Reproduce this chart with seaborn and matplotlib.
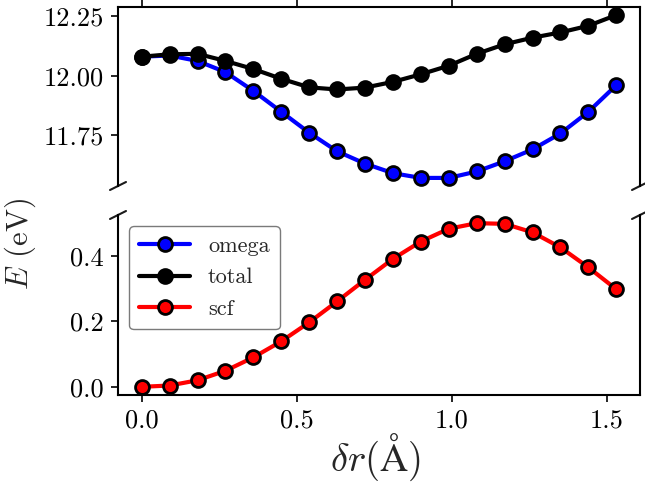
import numpy as np
import pandas as pd
import matplotlib
matplotlib.use("Agg")
import matplotlib.pyplot as plt
import seaborn as sns

# ---- data ----
dr = [0.00, 0.09, 0.18, 0.27, 0.36, 0.45, 0.54, 0.63, 0.72, 0.81,
      0.90, 0.99, 1.08, 1.17, 1.26, 1.35, 1.44, 1.53]
omega = [12.080, 12.085, 12.062, 12.015, 11.936, 11.848, 11.760, 11.682, 11.630,
         11.590, 11.570, 11.570, 11.597, 11.640, 11.690, 11.757, 11.848, 11.960]
total = [12.080, 12.090, 12.092, 12.062, 12.028, 11.987, 11.951, 11.942, 11.950,
         11.974, 12.006, 12.042, 12.092, 12.132, 12.160, 12.182, 12.210, 12.255]
scf = [0.000, 0.004, 0.020, 0.049, 0.090, 0.139, 0.197, 0.261, 0.327,
       0.391, 0.444, 0.483, 0.500, 0.498, 0.472, 0.426, 0.365, 0.298]
series_names = ["omega", "total", "scf"]
series_colors = ["blue", "black", "red"]
xticks = [0.0, 0.5, 1.0, 1.5]
top_yticks = [11.75, 12.00, 12.25]
bot_yticks = [0.0, 0.2, 0.4]

df_top = pd.DataFrame({
    "dr": dr * 2,
    "E": omega + total,
    "series": ["omega"] * len(dr) + ["total"] * len(dr),
})
df_bot = pd.DataFrame({"dr": dr, "E": scf, "series": ["scf"] * len(dr)})
palette = dict(zip(series_names, series_colors))

sns.set_theme(style="ticks")
plt.rcParams["font.family"] = ["cmr10", "DejaVu Serif"]
plt.rcParams["mathtext.fontset"] = "cm"
plt.rcParams["axes.formatter.use_mathtext"] = True
plt.rcParams["axes.unicode_minus"] = False
plt.rcParams["axes.linewidth"] = 1.5
plt.rcParams["xtick.major.width"] = 1.2
plt.rcParams["ytick.major.width"] = 1.2
plt.rcParams["xtick.major.size"] = 5
plt.rcParams["ytick.major.size"] = 5
plt.rcParams["xtick.color"] = "black"
plt.rcParams["ytick.color"] = "black"
plt.rcParams["axes.edgecolor"] = "black"

W, H = 645, 486
fig = plt.figure(figsize=(W / 100, H / 100), dpi=100)
left, right = 118 / W, 640 / W
ax1 = fig.add_axes([left, 1 - 186 / H, right - left, (186 - 7) / H])
ax2 = fig.add_axes([left, 1 - 395 / H, right - left, (395 - 215) / H], sharex=ax1)

line_kw = dict(marker="o", markersize=10, markeredgecolor="black",
               markeredgewidth=2, linewidth=3)
sns.lineplot(data=df_top, x="dr", y="E", hue="series", hue_order=["omega", "total"],
             palette=palette, ax=ax1, legend=False, **line_kw)
sns.lineplot(data=df_bot, x="dr", y="E", hue="series", palette=palette,
             ax=ax2, legend=False, **line_kw)

ax1.set_ylim(11.536, 12.289)
ax2.set_ylim(-0.025, 0.525)
ax1.set_xlim(-0.0765, 1.6065)
ax1.set_xticks(xticks)
ax1.set_yticks(top_yticks)
ax1.set_yticklabels(["%.2f" % v for v in top_yticks])
ax2.set_yticks(bot_yticks)
ax2.set_yticklabels(["%.1f" % v for v in bot_yticks])
ax2.set_xticklabels(["%.1f" % v for v in xticks])

ax1.spines["bottom"].set_visible(False)
ax2.spines["top"].set_visible(False)
ax1.xaxis.tick_top()
ax1.tick_params(labeltop=False, labelbottom=False)
ax2.xaxis.tick_bottom()
for ax in (ax1, ax2):
    ax.tick_params(labelsize=19, colors="black", pad=5)
    ax.set_xlabel("")
    ax.set_ylabel("")

# break marks
dx = 8 / (W * (right - left))
h1 = (186 - 7)
h2 = (395 - 215)
dy1 = 4 / h1
dy2 = 4 / h2
kw = dict(color="k", clip_on=False, linewidth=1.5)
ax1.plot((-dx, dx), (-dy1, dy1), transform=ax1.transAxes, **kw)
ax1.plot((1 - dx, 1 + dx), (-dy1, dy1), transform=ax1.transAxes, **kw)
ax2.plot((-dx, dx), (1 - dy2, 1 + dy2), transform=ax2.transAxes, **kw)
ax2.plot((1 - dx, 1 + dx), (1 - dy2, 1 + dy2), transform=ax2.transAxes, **kw)

# legend
handles = [l for l in ax1.get_lines()[:2]] + [ax2.get_lines()[0]]
leg = ax2.legend(handles, series_names, loc="upper left", fontsize=16,
                 handlelength=2.3, frameon=True, fancybox=True,
                 edgecolor="0.35", framealpha=0.8, borderpad=0.45,
                 labelspacing=0.55)
leg.get_frame().set_linewidth(1.0)

fig.text(20 / W, 1 - 244 / H, r"$E$ (eV)", rotation=90, fontsize=22,
         ha="center", va="center")
fig.text(376 / W, 1 - 457 / H, r"$\delta r(\mathrm{\AA})$",
         fontsize=28, ha="center", va="center")

fig.savefig("out.png", dpi=100)
